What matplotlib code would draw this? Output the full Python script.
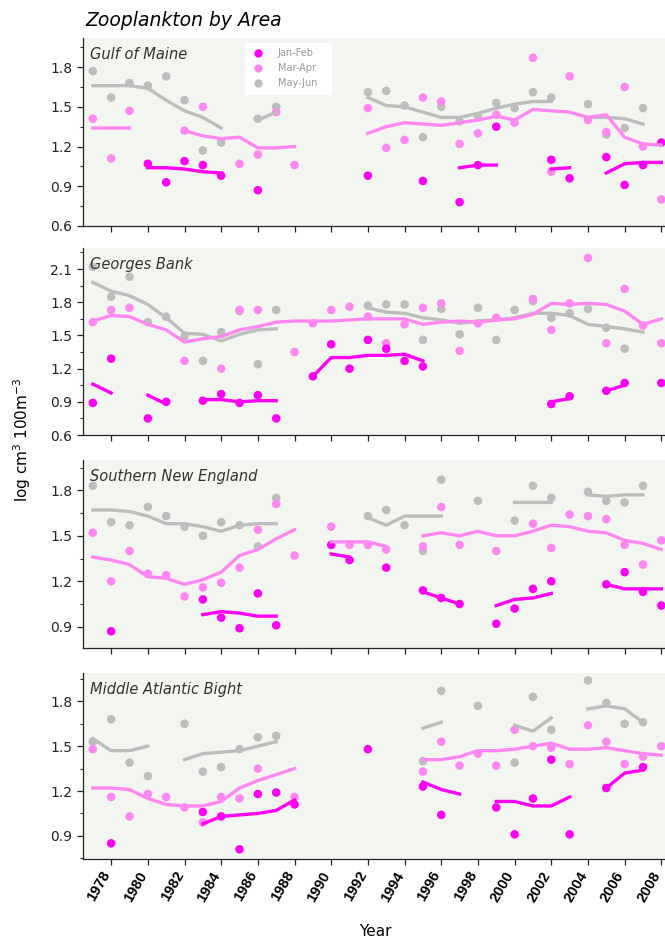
import numpy as np
import matplotlib
matplotlib.use('Agg')
import matplotlib.pyplot as plt
from matplotlib.lines import Line2D
from matplotlib.patches import Rectangle
from matplotlib.ticker import MultipleLocator
from matplotlib.transforms import ScaledTranslation

plt.rcParams['font.family'] = ['DejaVu Sans']

n = np.nan
years = np.arange(1977, 2009)
seasons = ['Jan-Feb', 'Mar-Apr', 'May-Jun']
areas = ['Gulf of Maine', 'Georges Bank', 'Southern New England', 'Middle Atlantic Bight']

# yearly survey means, 1977-2008 (rows of 8 years)
gom_jf = [n, n, n, 1.07, 0.93, 1.09, 1.06, 0.98,
          n, 0.87, n, n, n, n, n, 0.98,
          n, n, 0.94, n, 0.78, 1.06, 1.35, n,
          n, 1.10, 0.96, n, 1.12, 0.91, 1.06, 1.23]
gom_ma = [1.41, 1.11, 1.47, n, n, 1.32, 1.50, n,
          1.07, 1.14, 1.46, 1.06, n, n, n, 1.49,
          1.19, 1.25, 1.57, 1.54, 1.22, 1.30, 1.44, 1.38,
          1.87, 1.01, 1.73, 1.40, 1.31, 1.65, 1.20, 0.80]
gom_mj = [1.77, 1.57, 1.68, 1.66, 1.73, 1.55, 1.17, 1.23,
          n, 1.41, 1.50, n, n, n, n, 1.61,
          1.62, 1.51, 1.27, 1.50, 1.39, 1.43, 1.53, 1.49,
          1.61, 1.57, n, 1.52, 1.29, 1.34, 1.49, n]

gb_jf = [0.89, 1.29, n, 0.75, 0.90, n, 0.91, 0.97,
         0.89, 0.96, 0.75, n, 1.13, 1.42, 1.20, 1.46,
         1.38, 1.27, 1.22, n, n, n, n, n,
         n, 0.88, 0.95, n, 1.00, 1.07, n, 1.07]
gb_ma = [1.62, 1.73, 1.75, n, n, 1.27, n, 1.20,
         1.73, 1.73, n, 1.35, 1.61, 1.73, 1.76, 1.67,
         1.43, 1.60, 1.75, 1.79, 1.36, 1.61, 1.66, n,
         1.83, 1.55, 1.79, 2.20, 1.43, 1.92, 1.59, 1.43]
gb_mj = [2.12, 1.85, 2.03, 1.62, 1.67, 1.49, 1.27, 1.53,
         1.72, 1.24, 1.73, n, n, n, n, 1.77,
         1.78, 1.78, 1.46, 1.74, 1.51, 1.75, 1.46, 1.73,
         1.81, 1.66, 1.70, 1.74, 1.57, 1.38, n, n]

sne_jf = [n, 0.87, n, n, n, n, 1.08, 0.96,
          0.89, 1.12, 0.91, n, n, 1.44, 1.34, n,
          1.29, n, 1.14, 1.09, 1.05, n, 0.92, 1.02,
          1.15, 1.20, n, n, 1.18, 1.26, 1.13, 1.04]
sne_ma = [1.52, 1.20, 1.40, 1.25, 1.24, 1.10, 1.16, 1.19,
          1.29, 1.54, 1.71, 1.37, n, 1.56, 1.44, 1.44,
          1.41, n, 1.43, 1.69, 1.44, n, 1.40, n,
          1.58, 1.42, 1.64, 1.63, 1.61, 1.44, 1.31, 1.47]
sne_mj = [1.83, 1.59, 1.57, 1.69, 1.63, 1.56, 1.50, 1.59,
          1.57, 1.43, 1.75, n, n, n, n, 1.63,
          1.67, 1.57, 1.40, 1.87, n, 1.73, n, 1.60,
          1.83, 1.75, n, 1.79, 1.73, 1.72, 1.83, n]

mab_jf = [n, 0.85, n, n, n, n, 1.06, 1.03,
          0.81, 1.18, 1.19, 1.11, n, n, n, 1.48,
          n, n, 1.23, 1.04, n, n, 1.09, 0.91,
          1.15, 1.41, 0.91, n, 1.22, n, 1.36, n]
mab_ma = [1.48, 1.16, 1.03, 1.18, 1.16, 1.09, 0.99, 1.16,
          1.15, 1.35, n, 1.16, n, n, n, n,
          n, n, 1.33, 1.53, 1.37, 1.45, 1.37, 1.61,
          1.50, 1.49, 1.38, 1.64, 1.53, 1.38, 1.43, 1.50]
mab_mj = [1.53, 1.68, 1.39, 1.30, n, 1.65, 1.33, 1.36,
          1.48, 1.56, 1.57, n, n, n, n, n,
          n, n, 1.40, 1.87, n, 1.77, n, 1.39,
          1.83, 1.61, n, 1.94, 1.79, 1.65, 1.66, n]

# smoothed trends (gaps where too few years)
gom_jf_fit = [n, n, n, 1.04, 1.04, 1.03, 1.01, 1.00,
              n, n, n, n, n, n, n, n,
              n, n, n, n, 1.04, 1.06, 1.06, n,
              n, 1.03, 1.04, n, 1.00, 1.07, 1.08, 1.08]
gom_ma_fit = [1.34, 1.34, 1.34, n, n, 1.32, 1.28, 1.26,
              1.27, 1.19, 1.19, 1.20, n, n, n, 1.30,
              1.35, 1.38, 1.37, 1.36, 1.38, 1.40, 1.43, 1.40,
              1.48, 1.47, 1.46, 1.42, 1.44, 1.27, 1.22, 1.21]
gom_mj_fit = [1.66, 1.66, 1.66, 1.64, 1.55, 1.47, 1.42, 1.34,
              n, 1.40, 1.46, n, n, n, n, 1.57,
              1.51, 1.50, 1.46, 1.42, 1.42, 1.45, 1.49, 1.52,
              1.54, 1.54, n, 1.42, 1.42, 1.41, 1.37, n]

gb_jf_fit = [1.06, 0.98, n, 0.96, 0.88, n, 0.92, 0.92,
             0.90, 0.91, 0.91, n, 1.13, 1.30, 1.30, 1.32,
             1.32, 1.33, 1.27, n, n, n, n, n,
             n, 0.90, 0.93, n, 1.00, 1.05, n, n]
gb_ma_fit = [1.63, 1.68, 1.67, 1.60, 1.55, 1.44, 1.47, 1.49,
             1.55, 1.58, 1.62, 1.63, 1.63, 1.63, 1.64, 1.65,
             1.65, 1.65, 1.60, 1.62, 1.63, 1.62, 1.64, 1.65,
             1.69, 1.79, 1.78, 1.79, 1.78, 1.72, 1.60, 1.65]
gb_mj_fit = [1.98, 1.90, 1.86, 1.78, 1.66, 1.52, 1.51, 1.45,
             1.51, 1.55, 1.56, n, n, n, n, 1.75,
             1.71, 1.70, 1.66, 1.64, 1.61, 1.63, 1.64, 1.66,
             1.70, 1.70, 1.68, 1.60, 1.58, 1.56, 1.53, n]

sne_jf_fit = [n, n, n, n, n, n, 0.98, 1.00,
              0.99, 0.97, 0.97, n, n, 1.38, 1.36, n,
              n, n, 1.13, 1.09, 1.05, n, 1.04, 1.08,
              1.09, 1.12, n, n, 1.18, 1.15, 1.15, 1.15]
sne_ma_fit = [1.36, 1.34, 1.31, 1.23, 1.22, 1.18, 1.21, 1.26,
              1.37, 1.41, 1.48, 1.54, n, 1.46, 1.46, 1.46,
              1.43, n, 1.50, 1.52, 1.50, 1.53, 1.50, 1.50,
              1.53, 1.57, 1.56, 1.53, 1.52, 1.47, 1.45, 1.41]
sne_mj_fit = [1.67, 1.67, 1.66, 1.63, 1.58, 1.58, 1.56, 1.53,
              1.57, 1.58, 1.58, n, n, n, n, 1.62,
              1.57, 1.63, 1.63, 1.63, n, n, n, 1.72,
              1.72, 1.72, n, 1.77, 1.76, 1.77, 1.77, n]

mab_jf_fit = [n, n, n, n, n, n, 0.98, 1.03,
              1.04, 1.05, 1.07, 1.14, n, n, n, n,
              n, n, 1.26, 1.21, 1.18, n, 1.13, 1.13,
              1.10, 1.10, 1.16, n, 1.22, 1.32, 1.34, n]
mab_ma_fit = [1.22, 1.22, 1.21, 1.15, 1.11, 1.10, 1.10, 1.13,
              1.22, 1.27, 1.31, 1.35, n, n, n, n,
              n, n, 1.41, 1.41, 1.43, 1.47, 1.47, 1.48,
              1.50, 1.52, 1.48, 1.48, 1.49, 1.47, 1.45, 1.44]
mab_mj_fit = [1.55, 1.47, 1.47, 1.50, n, 1.41, 1.45, 1.46,
              1.47, 1.50, 1.53, n, n, n, n, n,
              n, n, 1.62, 1.66, n, n, n, 1.64,
              1.60, 1.69, n, 1.75, 1.77, 1.75, 1.66, n]

colors = ['#ff00f4', '#ff88f0', '#bdbdbd']

points = [(gom_jf, gom_ma, gom_mj), (gb_jf, gb_ma, gb_mj),
          (sne_jf, sne_ma, sne_mj), (mab_jf, mab_ma, mab_mj)]
fits = [(gom_jf_fit, gom_ma_fit, gom_mj_fit), (gb_jf_fit, gb_ma_fit, gb_mj_fit),
        (sne_jf_fit, sne_ma_fit, sne_mj_fit), (mab_jf_fit, mab_ma_fit, mab_mj_fit)]

ylims = [(0.6, 2.02), (0.6, 2.29), (0.76, 2.0), (0.745, 1.99)]
yticks = [np.arange(0.6, 1.81, 0.3), np.arange(0.6, 2.11, 0.3),
          np.arange(0.9, 1.81, 0.3), np.arange(0.9, 1.81, 0.3)]
# panel boxes in figure fractions (bottom, height)
boxes = [(0.7601, 0.1996), (0.5382, 0.1985), (0.3121, 0.1996), (0.0881, 0.1975)]

fig = plt.figure(figsize=(6.65, 9.42), dpi=100)

for i in range(4):
    ax = fig.add_axes([0.1244, boxes[i][0], 0.8756, boxes[i][1]])
    ax.set_facecolor('#f3f5f0')
    for s in ['top', 'right']:
        ax.spines[s].set_visible(False)
    for s in ['left', 'bottom']:
        ax.spines[s].set_color('#222222')
        ax.spines[s].set_linewidth(0.9)

    # gray first, magenta on top
    for k in [2, 1, 0]:
        ax.scatter(years, points[i][k], s=38, color=colors[k], edgecolors='none', zorder=2)
        ax.plot(years, fits[i][k], color=colors[k], lw=2.4, zorder=3)

    ax.set_xlim(1976.45, 2008.2)
    ax.set_ylim(*ylims[i])
    ax.set_yticks(yticks[i])
    ax.set_yticklabels(['%.1f' % v for v in yticks[i]], fontsize=10, color='#222222')
    ax.yaxis.set_minor_locator(MultipleLocator(0.15))
    ax.set_xticks(range(1978, 2009, 2))
    ax.tick_params(axis='both', which='major', direction='out', length=4, width=0.9, color='#222222')
    ax.tick_params(axis='y', which='minor', direction='out', length=2.5, width=0.8, color='#222222')
    if i < 3:
        ax.set_xticklabels([])
    else:
        ax.set_xticklabels([str(y) for y in range(1978, 2009, 2)], rotation=60, ha='right',
                           va='center', rotation_mode='anchor', fontsize=10.5,
                           fontweight='bold', family='Liberation Sans')
        shift = ScaledTranslation(-4 / 100, -3 / 100, fig.dpi_scale_trans)
        for lab in ax.get_xticklabels():
            lab.set_transform(lab.get_transform() + shift)

    ax.text(0.012, 0.91, areas[i], transform=ax.transAxes, fontsize=10.5, style='italic',
            color='#333333', va='center', ha='left')

    if i == 0:
        ax.add_patch(Rectangle((0.2787, 0.697), 0.1494, 0.276, transform=ax.transAxes,
                               facecolor='white', edgecolor='none', zorder=4))
        handles = [Line2D([], [], ls='none', marker='o', ms=6, color=c, markeredgecolor='none')
                   for c in colors]
        leg = ax.legend(handles, seasons, loc='upper left', bbox_to_anchor=(0.2787, 0.973),
                        fontsize=7, labelcolor='#9a9a9a', frameon=False,
                        borderaxespad=0, handletextpad=1.2, labelspacing=0.5,
                        borderpad=0.55, handlelength=1.6)
        leg.set_zorder(5)

fig.text(0.128, 0.978, 'Zooplankton by Area', fontsize=13.5, style='italic', va='center', ha='left')
fig.text(0.033, 0.533, 'log cm$^3$ 100m$^{-3}$', rotation=90, fontsize=11, va='center', ha='center')
fig.text(0.565, 1 - 932 / 942, 'Year', fontsize=11, va='center', ha='center')

fig.savefig('out.png', dpi=100)
